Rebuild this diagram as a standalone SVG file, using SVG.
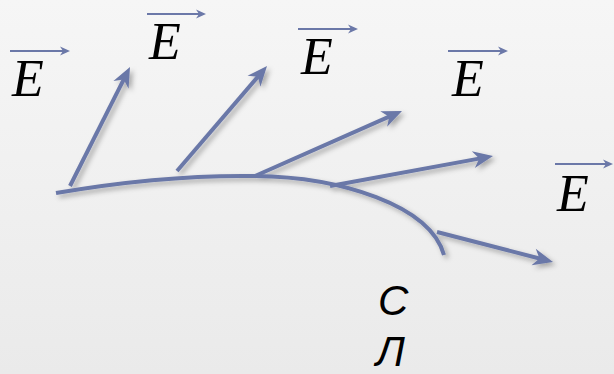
<svg xmlns="http://www.w3.org/2000/svg" width="614" height="374" viewBox="0 0 614 374">
<defs>
<linearGradient id="bg" x1="0" y1="0" x2="0" y2="1">
<stop offset="0" stop-color="#f6f6f6"/>
<stop offset="1" stop-color="#eaeaea"/>
</linearGradient>
<filter id="sh" x="-20%" y="-20%" width="140%" height="140%">
<feDropShadow dx="3" dy="3" stdDeviation="2.5" flood-color="#000" flood-opacity="0.3"/>
</filter>
<marker id="big" markerUnits="userSpaceOnUse" markerWidth="22" markerHeight="20" viewBox="0 -10 22 20" refX="14" refY="0" orient="auto" overflow="visible">
<path d="M20,0 L0,-8.5 L6,0 L0,8.5 Z" fill="#6b78a8"/>
</marker>
<marker id="small" markerUnits="userSpaceOnUse" markerWidth="12" markerHeight="10" viewBox="0 -5 12 10" refX="7" refY="0" orient="auto" overflow="visible">
<path d="M10,0 L0,-4.5 L3,0 L0,4.5 Z" fill="#6b78a8"/>
</marker>
<style>
.line{fill:none;stroke:#6b78a8;stroke-width:4;stroke-linecap:butt}
.vec{stroke:#6b78a8;stroke-width:4;marker-end:url(#big)}
.ov{stroke:#6b78a8;stroke-width:2;marker-end:url(#small)}
.E{font-family:"Liberation Serif","Times New Roman",serif;font-style:italic;font-size:52px;fill:#000}
.lbl{font-family:"Liberation Sans",Arial,sans-serif;font-style:italic;font-size:42px;fill:#000}
</style>
</defs>
<rect width="614" height="374" fill="url(#bg)"/>
<g id="connectors" filter="url(#sh)">
<path id="field-line" class="line" d="M56,193 C120,182 190,175 255,176 C340,177 430,205 444,255"/>
<line class="vec" x1="70" y1="186" x2="127.3" y2="72.4"/>
<line class="vec" x1="177" y1="171" x2="263.1" y2="70.6"/>
<line class="vec" x1="255" y1="176" x2="396.5" y2="113.4"/>
<line class="vec" x1="330" y1="186" x2="487.1" y2="157.1"/>
<line class="vec" x1="437" y1="232" x2="547.2" y2="260.5"/>
</g>
<g id="label-E1"><line class="ov" x1="10" y1="51" x2="67" y2="51"/><text class="E" x="12" y="96">E</text></g>
<g id="label-E2"><line class="ov" x1="147" y1="14" x2="203" y2="14"/><text class="E" x="149" y="59">E</text></g>
<g id="label-E3"><line class="ov" x1="298" y1="29" x2="355" y2="29"/><text class="E" x="301" y="74">E</text></g>
<g id="label-E4"><line class="ov" x1="448" y1="51" x2="505" y2="51"/><text class="E" x="452" y="96">E</text></g>
<g id="label-E5"><line class="ov" x1="555" y1="164" x2="610" y2="164"/><text class="E" x="557" y="211">E</text></g>
<g id="label-SL">
<text class="lbl" x="378" y="315">С</text>
<text class="lbl" x="376" y="366">Л</text>
</g>
</svg>
